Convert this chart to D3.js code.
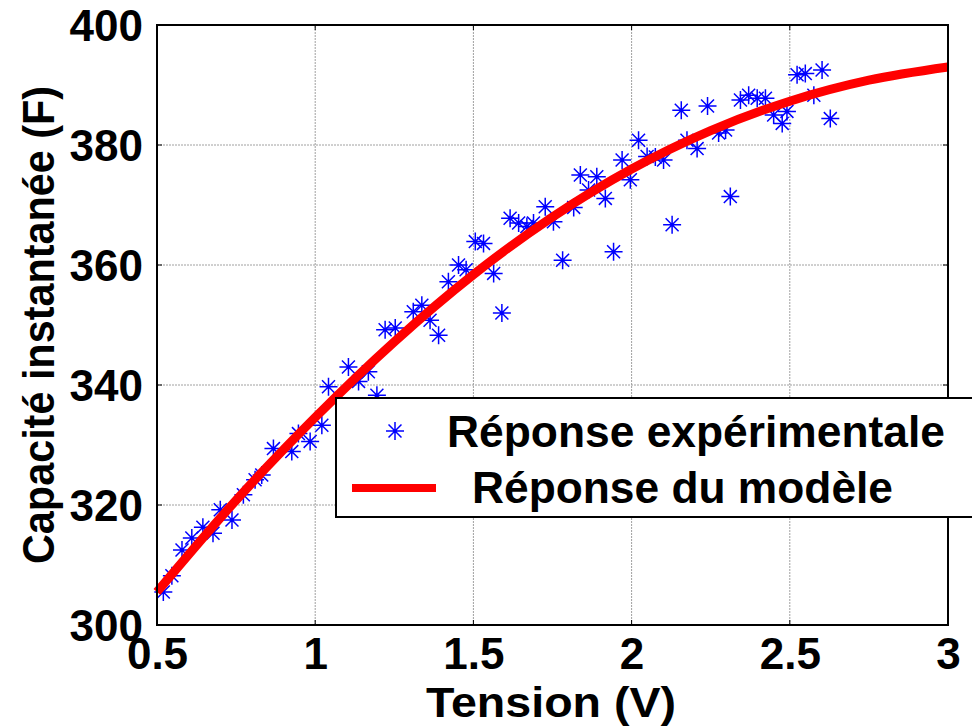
<!DOCTYPE html>
<html><head><meta charset="utf-8">
<script src="https://cdn.jsdelivr.net/npm/d3@7"></script>
<style>body{margin:0;background:#fff}svg{display:block}text{font-family:"Liberation Sans",Arial,sans-serif;font-weight:bold}</style>
</head><body>
<script>
const xTicks = [0.5, 1, 1.5, 2, 2.5, 3];
const xTickLabels = ["0.5", "1", "1.5", "2", "2.5", "3"];
const yTicks = [300, 320, 340, 360, 380, 400];
const yTickLabels = ["300", "320", "340", "360", "380", "400"];

// Experimental points: tension (V) and capacity (F)
const expV = [0.52,0.547,0.579,0.61,0.645,0.677,0.70,0.737,0.773,0.81,0.831,0.868,0.926,0.947,0.984,1.021,1.042,1.105,1.137,1.168,1.195,1.221,1.253,1.31,1.337,1.363,1.39,1.421,1.453,1.477,1.506,1.532,1.564,1.59,1.616,1.643,1.669,1.69,1.727,1.753,1.782,1.817,1.838,1.864,1.89,1.917,1.943,1.97,1.996,2.022,2.049,2.075,2.101,2.128,2.157,2.175,2.207,2.24,2.275,2.297,2.312,2.344,2.37,2.397,2.423,2.449,2.476,2.491,2.523,2.549,2.576,2.602,2.628];
const expC = [305.5,308.2,312.5,314.5,316.3,315.3,319.2,317.5,321.7,324.2,325,329.4,328.9,331.9,330.6,333.3,339.7,343,340.6,342.2,338.3,349.2,349.5,352.2,353.3,350.8,348.3,357.2,360,359.2,363.9,363.6,358.6,352,367.8,367,366.4,367,369.7,367.2,360.8,369.6,375,372.5,374.7,371.1,362.2,377.5,374.2,380.8,378.1,378,377.5,366.7,385.8,380.8,379.4,386.5,382,382.5,371.4,387.5,388.3,387.8,387.8,385,383.6,385.6,391.7,391.9,388.3,392.5,384.4];

// Model curve
const modelV = [0.5,0.75,1,1.25,1.5,1.75,2,2.25,2.5,2.75,3];
const modelC = [305.5,320.8,334.6,347.2,358.4,368.0,376.0,382.4,387.3,390.8,393.0];

const legendLabels = ["Réponse expérimentale", "Réponse du modèle"];
const xLabel = "Tension (V)";
const yLabel = "Capacité instantanée (F)";

const W = 972, H = 727;
const m = {left:157, right:24, top:25, bottom:102};
const svg = d3.select("body").append("svg").attr("width", W).attr("height", H);

const x = d3.scaleLinear().domain([0.5, 3]).range([m.left, W - m.right]);
const y = d3.scaleLinear().domain([300, 400]).range([H - m.bottom, m.top]);

// grid
const g = svg.append("g");
g.selectAll(".vg").data(xTicks.slice(1, -1)).join("line")
  .attr("x1", d => x(d)).attr("x2", d => x(d)).attr("y1", y(300)).attr("y2", y(400))
  .attr("stroke", "#a0a0a0").attr("stroke-width", 1).attr("stroke-dasharray", "2,1");
g.selectAll(".hg").data(yTicks.slice(1, -1)).join("line")
  .attr("y1", d => y(d)).attr("y2", d => y(d)).attr("x1", x(0.5)).attr("x2", x(3))
  .attr("stroke", "#a0a0a0").attr("stroke-width", 1).attr("stroke-dasharray", "2,1");

// axes
const xAxis = d3.axisBottom(x).tickValues(xTicks).tickFormat((d, i) => xTickLabels[i]).tickSize(0).tickPadding(13);
const yAxis = d3.axisLeft(y).tickValues(yTicks).tickFormat((d, i) => yTickLabels[i]).tickSize(0).tickPadding(14);
const gx = svg.append("g").attr("transform", `translate(0,${y(300)})`).call(xAxis);
const gy = svg.append("g").attr("transform", `translate(${x(0.5)},0)`).call(yAxis);
[gx, gy].forEach(a => { a.select(".domain").remove(); a.selectAll("text").attr("font-size", 44).attr("font-weight", "bold").attr("fill", "#000").style("font-family", "'Liberation Sans',Arial,sans-serif"); });
gy.selectAll("text").attr("dy", "0.36em");

// inner ticks
const tk = svg.append("g").attr("stroke", "#000").attr("stroke-width", 1);
xTicks.forEach(v => {
  tk.append("line").attr("x1", x(v)).attr("x2", x(v)).attr("y1", y(300)).attr("y2", y(300) - 5);
  tk.append("line").attr("x1", x(v)).attr("x2", x(v)).attr("y1", y(400)).attr("y2", y(400) + 5);
});
yTicks.forEach(v => {
  tk.append("line").attr("y1", y(v)).attr("y2", y(v)).attr("x1", x(0.5)).attr("x2", x(0.5) + 5);
  tk.append("line").attr("y1", y(v)).attr("y2", y(v)).attr("x1", x(3)).attr("x2", x(3) - 5);
});

// star marker
function star(sel, cx, cy, r) {
  const a = r * 0.72;
  const p = `M${cx - r},${cy}L${cx + r},${cy}M${cx},${cy - r}L${cx},${cy + r}M${cx - a},${cy - a}L${cx + a},${cy + a}M${cx - a},${cy + a}L${cx + a},${cy - a}`;
  sel.append("path").attr("d", p).attr("stroke", "#0000ff").attr("stroke-width", 1.5).attr("fill", "none");
}
const pts = svg.append("g");
expV.forEach((v, i) => star(pts, x(v), y(expC[i]), 9));

// model line
const modelData = modelV.map((v, i) => [v, modelC[i]]);
svg.append("path").datum(modelData)
  .attr("d", d3.line().x(d => x(d[0])).y(d => y(d[1])).curve(d3.curveMonotoneX))
  .attr("fill", "none").attr("stroke", "#ff0000").attr("stroke-width", 9);

// frame
svg.append("rect").attr("x", x(0.5)).attr("y", y(400)).attr("width", x(3) - x(0.5)).attr("height", y(300) - y(400))
  .attr("fill", "none").attr("stroke", "#000").attr("stroke-width", 2);

// labels
svg.append("text").attr("x", 551).attr("y", 717).attr("text-anchor", "middle").attr("font-size", 42)
  .attr("textLength", 250).attr("lengthAdjust", "spacingAndGlyphs").text(xLabel);
svg.append("text").attr("transform", "translate(54,325) rotate(-90)").attr("text-anchor", "middle").attr("font-size", 44)
  .attr("textLength", 478).attr("lengthAdjust", "spacingAndGlyphs").text(yLabel);

// legend
const lg = svg.append("g");
lg.append("rect").attr("x", 336).attr("y", 398).attr("width", 700).attr("height", 119)
  .attr("fill", "#fff").attr("stroke", "#000").attr("stroke-width", 2);
star(lg, 395, 431, 9);
lg.append("text").attr("x", 447).attr("y", 447).attr("font-size", 44)
  .attr("textLength", 498).attr("lengthAdjust", "spacingAndGlyphs").text(legendLabels[0]);
lg.append("line").attr("x1", 352).attr("x2", 436).attr("y1", 488).attr("y2", 488)
  .attr("stroke", "#ff0000").attr("stroke-width", 8);
lg.append("text").attr("x", 472).attr("y", 503).attr("font-size", 44)
  .attr("textLength", 421).attr("lengthAdjust", "spacingAndGlyphs").text(legendLabels[1]);
</script>
</body></html>
